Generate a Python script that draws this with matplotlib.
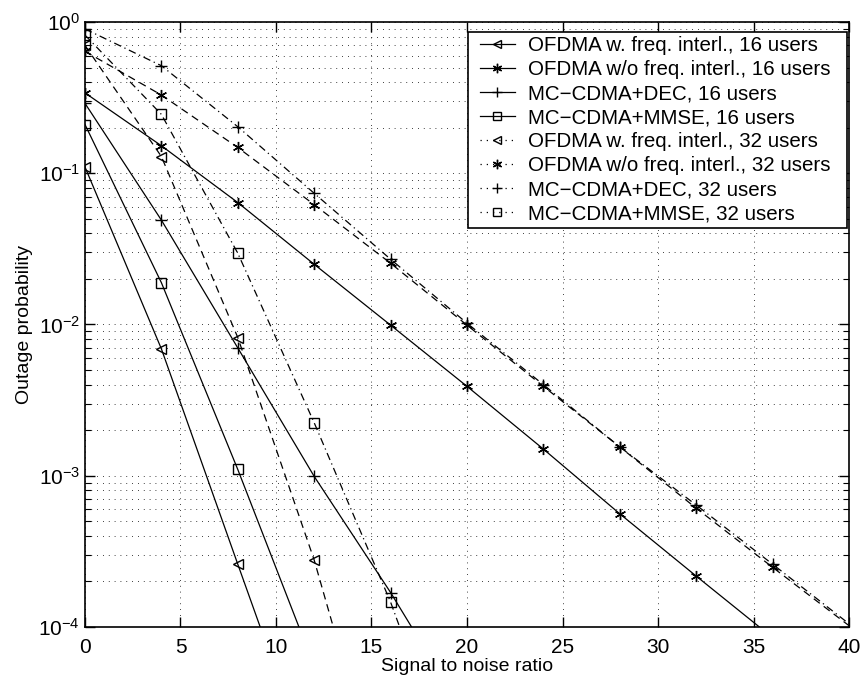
import matplotlib
matplotlib.use("Agg")
import matplotlib.pyplot as plt
from matplotlib.lines import Line2D
from matplotlib.patches import Rectangle
from matplotlib.transforms import IdentityTransform
from matplotlib.ticker import LogLocator, NullFormatter

plt.rcParams['font.family'] = ['Liberation Sans', 'DejaVu Sans']
plt.rcParams['mathtext.fontset'] = 'custom'
plt.rcParams['mathtext.rm'] = 'Liberation Sans'
plt.rcParams['mathtext.it'] = 'Liberation Sans:italic'
plt.rcParams['mathtext.bf'] = 'Liberation Sans:bold'

# values (SNR step 4)
snr_ofdma_w_16 = [0, 4, 8, 12]
ofdma_w_16 = [0.11, 0.0069, 0.00026, 1.0e-5]

snr_ofdma_wo_16 = [0, 4, 8, 12, 16, 20, 24, 28, 32, 36]
ofdma_wo_16 = [0.34, 0.152, 0.064, 0.025, 0.0099, 0.0039, 0.0015, 0.00056, 0.000217, 8.5e-5]

snr_dec_16 = [0, 4, 8, 12, 16, 20]
dec_16 = [0.29, 0.049, 0.0070, 0.00099, 0.000169, 2.5e-5]

snr_mmse_16 = [0, 4, 8, 12]
mmse_16 = [0.21, 0.0189, 0.0011, 5.5e-5]

snr_ofdma_w_32 = [0, 4, 8, 12, 16]
ofdma_w_32 = [0.70, 0.129, 0.0082, 0.000277, 4.7e-6]

snr_ofdma_wo_32 = [0, 4, 8, 12, 16, 20, 24, 28, 32, 36, 40]
ofdma_wo_32 = [0.64, 0.329, 0.148, 0.062, 0.0254, 0.0099, 0.0039, 0.00155, 0.00061, 0.000248, 1.02e-4]

snr_dec_32 = [0, 4, 8, 12, 16, 20, 24, 28, 32, 36, 40]
dec_32 = [0.90, 0.514, 0.203, 0.0737, 0.027, 0.0102, 0.0040, 0.00155, 0.00064, 0.00026, 1.05e-4]

snr_mmse_32 = [0, 4, 8, 12, 16, 20]
mmse_32 = [0.82, 0.245, 0.0296, 0.00224, 0.000146, 6e-6]

labels = ["OFDMA w. freq. interl., 16 users",
          "OFDMA w/o freq. interl., 16 users",
          "MC\u2212CDMA+DEC, 16 users",
          "MC\u2212CDMA+MMSE, 16 users",
          "OFDMA w. freq. interl., 32 users",
          "OFDMA w/o freq. interl., 32 users",
          "MC\u2212CDMA+DEC, 32 users",
          "MC\u2212CDMA+MMSE, 32 users"]

star = (6, 2, 0)
dash = (0, (6, 4))
dashdot = (0, (6, 3, 1, 3))
series = [
    (snr_ofdma_w_16, ofdma_w_16, '-', '<', 7),
    (snr_ofdma_wo_16, ofdma_wo_16, '-', star, 8),
    (snr_dec_16, dec_16, '-', '+', 9),
    (snr_mmse_16, mmse_16, '-', 's', 6.5),
    (snr_ofdma_w_32, ofdma_w_32, dash, '<', 7),
    (snr_ofdma_wo_32, ofdma_wo_32, dash, star, 8),
    (snr_dec_32, dec_32, dashdot, '+', 9),
    (snr_mmse_32, mmse_32, dashdot, 's', 6.5),
]

W, H = 861, 679
fig = plt.figure(figsize=(W / 100, H / 100), dpi=100)
ax = fig.add_axes([0.0987, 0.0766, 0.8874, 0.891])

handles = []
for (x, y, ls, mk, ms), lab in zip(series, labels):
    idx = [i for i in range(len(x)) if x[i] < 40]
    ax.plot(x, y, color='black', linestyle=ls, linewidth=0.9,
            marker=mk, markersize=ms, markerfacecolor='none',
            markeredgecolor='black', markeredgewidth=1.0, markevery=idx)
    hls = '-' if '16' in lab else (0, (1, 4))
    handles.append(Line2D([], [], color='black', linestyle=hls, linewidth=0.9,
                          marker=mk, markersize=ms * 0.85, markerfacecolor='none',
                          markeredgecolor='black', markeredgewidth=1.0))

ax.set_yscale('log')
ax.set_xlim(0, 40)
ax.set_ylim(1e-4, 1)
ax.set_xticks([0, 5, 10, 15, 20, 25, 30, 35, 40])
ax.yaxis.set_minor_locator(LogLocator(base=10, subs=range(2, 10)))
ax.yaxis.set_minor_formatter(NullFormatter())

ax.grid(True, which='major', linestyle=(0, (1, 6)), color='black', linewidth=0.6)
ax.grid(True, which='minor', axis='y', linestyle=(0, (1, 6)), color='black', linewidth=0.6)

ax.tick_params(which='both', direction='in', top=True, right=True, labelsize=15)
ax.tick_params(which='major', length=7, width=1)
ax.tick_params(which='minor', length=4, width=0.8)
ax.tick_params(axis='x', pad=8)
for s in ax.spines.values():
    s.set_linewidth(1.2)

ax.set_xlabel("Signal to noise ratio", fontsize=14, labelpad=1)
ax.set_ylabel("Outage probability", fontsize=14, labelpad=4)

# legend without frame, box drawn by hand (wider on the sides than on top)
pad_l, pad_r = 8, 12
box_right, box_top = 846.7, 31.7
leg = ax.legend(handles, labels, loc='upper right', fontsize=14.75,
                frameon=False, handlelength=1.7, handletextpad=0.65,
                labelspacing=0.25, borderpad=0.2, borderaxespad=0,
                bbox_to_anchor=((box_right - pad_r) / W, 1 - box_top / H),
                bbox_transform=fig.transFigure)
leg.set_zorder(6)
fig.canvas.draw()
bb = leg.get_window_extent()
ax.add_patch(Rectangle((bb.x0 - pad_l, bb.y0), bb.width + pad_l + pad_r, bb.height,
                       transform=IdentityTransform(), facecolor='white',
                       edgecolor='black', linewidth=1.2, zorder=5, clip_on=False))

fig.savefig("out.png", dpi=100)
